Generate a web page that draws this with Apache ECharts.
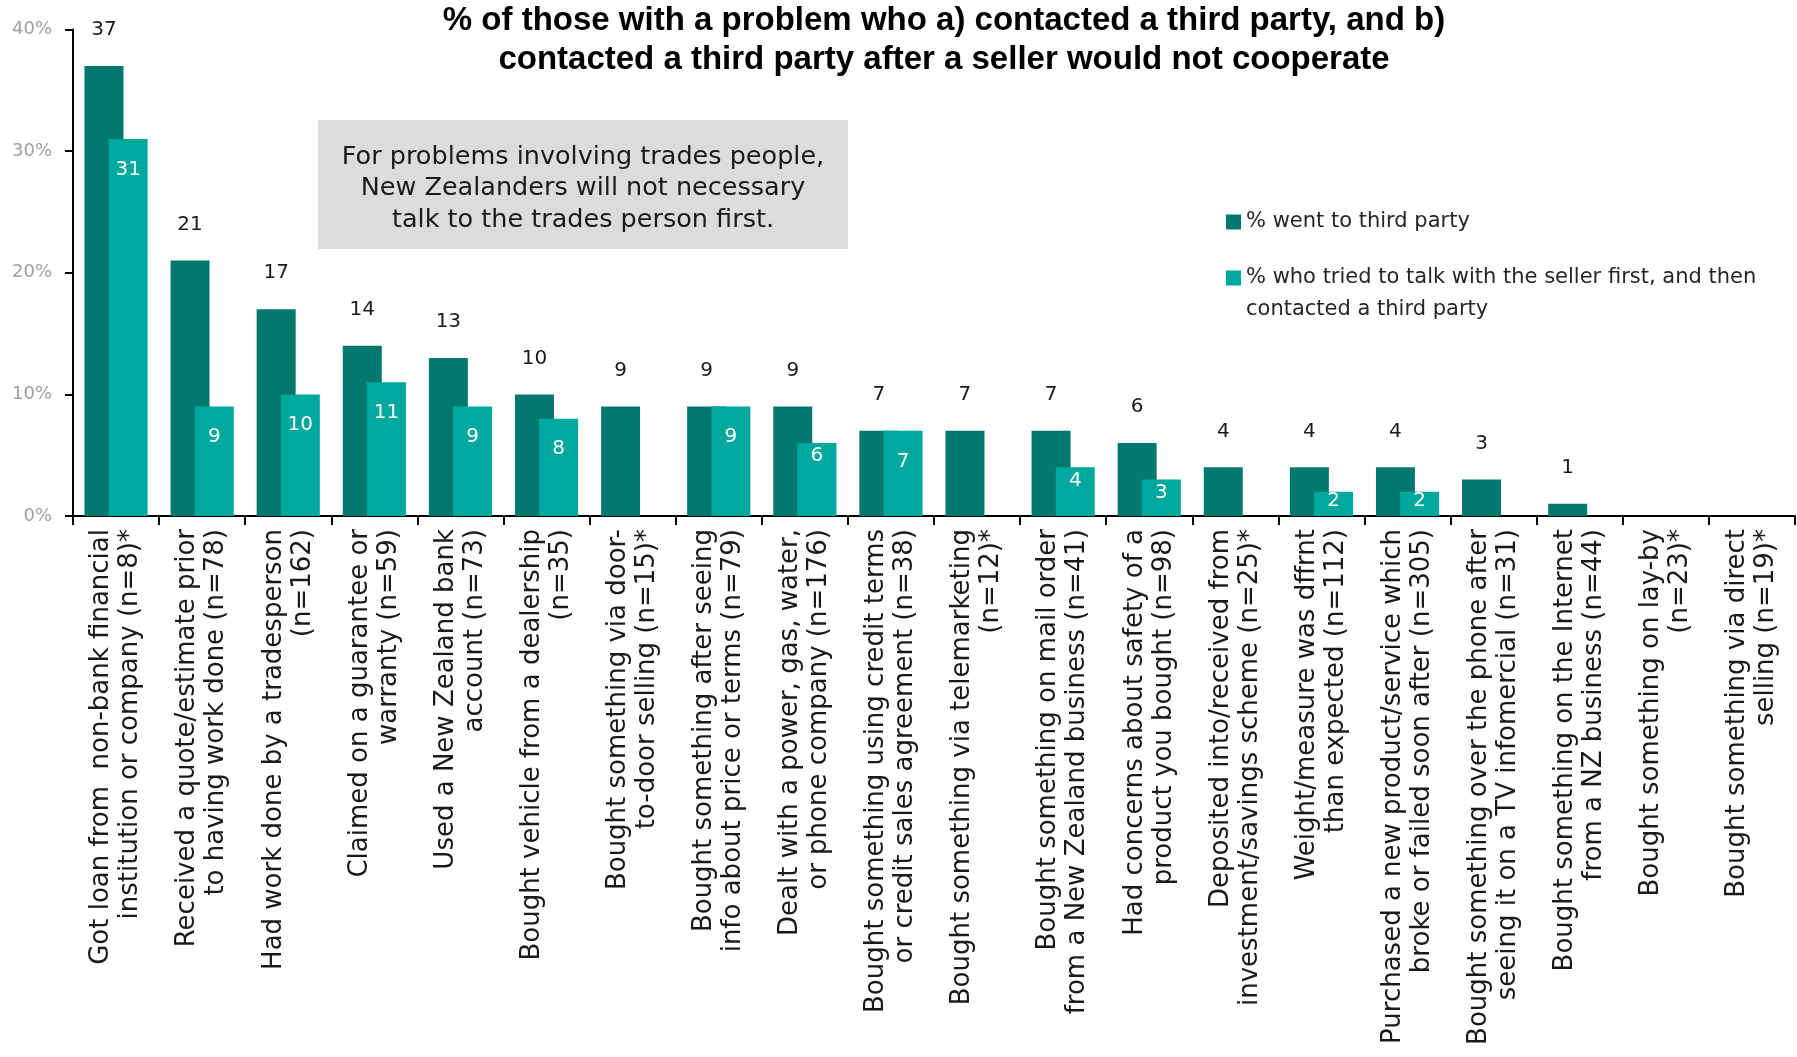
<!DOCTYPE html>
<html>
<head>
<meta charset="utf-8">
<title>Third party contact by problem type</title>
<script src="https://cdn.jsdelivr.net/npm/echarts@6/dist/echarts.min.js"></script>
<style>
  html, body { margin: 0; padding: 0; background: #ffffff; }
  #chart { width: 1797px; height: 1057px; }
</style>
</head>
<body>
<div id="chart"></div>
<script>
// Problem categories (sample size in brackets, * = small base)
const categories = [
  'Got loan from  non-bank financial\ninstitution or company (n=8)*',
  'Received a quote/estimate prior\nto having work done (n=78)',
  'Had work done by a tradesperson\n(n=162)',
  'Claimed on a guarantee or\nwarranty (n=59)',
  'Used a New Zealand bank\naccount (n=73)',
  'Bought vehicle from a dealership\n(n=35)',
  'Bought something via door-\nto-door selling (n=15)*',
  'Bought something after seeing\ninfo about price or terms (n=79)',
  'Dealt with a power, gas, water,\nor phone company (n=176)',
  'Bought something using credit terms\nor credit sales agreement (n=38)',
  'Bought something via telemarketing\n(n=12)*',
  'Bought something on mail order\nfrom a New Zealand business (n=41)',
  'Had concerns about safety of a\nproduct you bought (n=98)',
  'Deposited into/received from\ninvestment/savings scheme (n=25)*',
  'Weight/measure was dffrnt\nthan expected (n=112)',
  'Purchased a new product/service which\nbroke or failed soon after (n=305)',
  'Bought something over the phone after\nseeing it on a TV infomercial (n=31)',
  'Bought something on the Internet\nfrom a NZ business (n=44)',
  'Bought something on lay-by\n(n=23)*',
  'Bought something via direct\nselling (n=19)*'
];

// % went to third party
const wentToThirdParty = [37, 21, 17, 14, 13, 10, 9, 9, 9, 7, 7, 7, 6, 4, 4, 4, 3, 1, null, null];

// % who tried the seller first, then contacted a third party
const sellerFirstThenThirdParty = [31, 9, 10, 11, 9, 8, null, 9, 6, 7, null, 4, 3, null, 2, 2, null, null, null, null];

const seriesNames = [
  '% went to third party',
  '% who tried to talk with the seller first, and then contacted a third party'
];

const yTicks = { min: 0, max: 40, interval: 10 };

const titleLines = [
  '% of those with a problem who a) contacted a third party, and b)',
  'contacted a third party after a seller would not cooperate'
];

const noteLines = [
  'For problems involving trades people,',
  'New Zealanders will not necessary',
  'talk to the trades person first.'
];

const DARK = '#03786F';
const LIGHT = '#00A89D';
const BODY_FONT = 'DejaVu Sans';

// Short bars keep their value label tucked close to the bar top so it stays inside.
function insideLabelItems(values) {
  return values.map(function (v) {
    if (v == null) return null;
    if (v >= 7) return v;
    return { value: v, label: { distance: v <= 2 ? -1 : 3 } };
  });
}

const chart = echarts.init(document.getElementById('chart'), null, { renderer: 'canvas' });

const option = {
  backgroundColor: '#ffffff',
  animation: false,
  title: {
    text: titleLines.join('\n'),
    left: 944,
    top: 1,
    padding: 0,
    textAlign: 'center',
    textStyle: {
      fontFamily: 'Liberation Sans',
      fontWeight: 'bold',
      fontSize: 33,
      lineHeight: 39,
      color: '#000000'
    }
  },
  legend: [
    {
      data: [seriesNames[0]],
      left: 1226,
      top: 210,
      padding: 0,
      icon: 'rect',
      itemWidth: 15,
      itemHeight: 15,
      selectedMode: false,
      textStyle: { fontFamily: BODY_FONT, fontSize: 21, lineHeight: 24, color: '#262626' }
    },
    {
      data: [seriesNames[1]],
      left: 1226,
      top: 230,
      padding: 0,
      icon: 'rect',
      itemWidth: 15,
      itemHeight: 15,
      selectedMode: false,
      // first text line sits level with the swatch, the remainder wraps underneath
      formatter: function (name) {
        const cut = name.indexOf('and then') + 'and then'.length;
        return '\n' + name.slice(0, cut) + '\n' + name.slice(cut).trim();
      },
      textStyle: { fontFamily: BODY_FONT, fontSize: 21, lineHeight: 32, color: '#262626' }
    }
  ],
  grid: {
    left: 73,
    right: 2,
    top: 29.5,
    bottom: 541,
    containLabel: false,
    outerBoundsMode: 'none'
  },
  xAxis: {
    type: 'category',
    data: categories,
    axisLine: { show: true, lineStyle: { color: '#000000', width: 2 } },
    axisTick: { show: true, length: 9, lineStyle: { color: '#000000', width: 2 } },
    axisLabel: {
      interval: 0,
      rotate: 90,
      margin: 13,
      align: 'right',
      fontFamily: BODY_FONT,
      fontSize: 26,
      lineHeight: 29,
      color: '#1a1a1a'
    }
  },
  yAxis: {
    type: 'value',
    min: yTicks.min,
    max: yTicks.max,
    interval: yTicks.interval,
    axisLine: { show: true, lineStyle: { color: '#000000', width: 2 } },
    axisTick: { show: true, length: 8, lineStyle: { color: '#000000', width: 2 } },
    splitLine: { show: false },
    axisLabel: {
      formatter: '{value}%',
      margin: 21,
      fontFamily: BODY_FONT,
      fontSize: 18,
      color: '#a0a0a0'
    }
  },
  series: [
    {
      name: seriesNames[0],
      type: 'bar',
      data: wentToThirdParty,
      barWidth: 39,
      barGap: '-38%',
      itemStyle: { color: DARK },
      label: {
        show: true,
        position: 'top',
        distance: 26,
        fontFamily: BODY_FONT,
        fontSize: 20,
        color: '#1a1a1a'
      }
    },
    {
      name: seriesNames[1],
      type: 'bar',
      data: insideLabelItems(sellerFirstThenThirdParty),
      barWidth: 39,
      barGap: '-38%',
      itemStyle: { color: LIGHT },
      label: {
        show: true,
        position: 'insideTop',
        distance: 20.5,
        fontFamily: BODY_FONT,
        fontSize: 20,
        color: '#ffffff'
      }
    }
  ],
  graphic: [
    {
      type: 'group',
      left: 318,
      top: 120,
      children: [
        {
          type: 'rect',
          shape: { x: 0, y: 0, width: 530, height: 129 },
          style: { fill: '#DCDCDC' }
        },
        {
          type: 'text',
          x: 265,
          y: 68.5,
          style: {
            text: noteLines.join('\n'),
            fontFamily: BODY_FONT,
            fontSize: 25.5,
            lineHeight: 31.5,
            align: 'center',
            verticalAlign: 'middle',
            fill: '#1a1a1a'
          }
        }
      ]
    }
  ]
};

chart.setOption(option);
</script>
</body>
</html>
